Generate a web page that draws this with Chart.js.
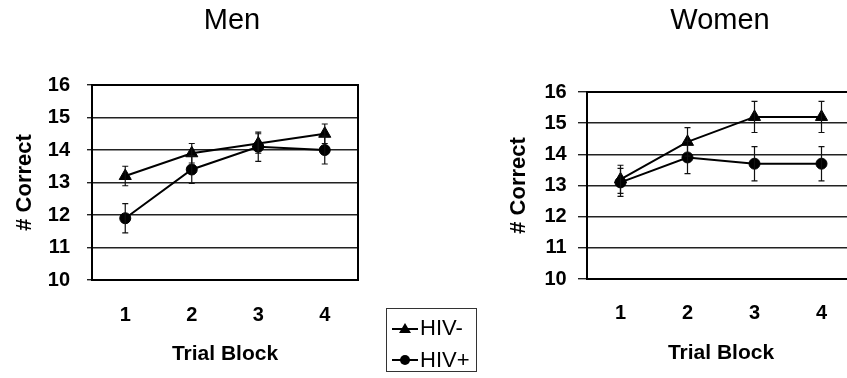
<!DOCTYPE html>
<html>
<head>
<meta charset="utf-8">
<script src="https://cdn.jsdelivr.net/npm/chart.js@4.4.0/dist/chart.umd.min.js"></script>
<style>
  html, body { margin: 0; padding: 0; background: #fff; overflow: hidden; }
  #wrap { position: relative; width: 847px; height: 378px; overflow: hidden; background: #fff; }
  .cv { position: absolute; top: 0; }
  #legend { position: absolute; left: 386px; top: 308px; width: 91px; height: 64px;
    border: 1px solid #333; box-sizing: border-box; font-family: "Liberation Sans", Arial, sans-serif;
    font-size: 22px; color: #000; }
  #legend .row { position: absolute; left: 4px; height: 26px; display: flex; align-items: center; }
  #legend svg { margin-right: 1px; }
</style>
</head>
<body>
<div id="wrap">
  <canvas id="men" class="cv" style="left:0px"></canvas>
  <canvas id="women" class="cv" style="left:440px"></canvas>
  <div id="legend"></div>
</div>
<script>
// ---- data ----
const categories = ['1', '2', '3', '4'];
const seriesLabels = ['HIV-', 'HIV+'];
const panelTitles = ['Men', 'Women'];
const yTicks = [10, 11, 12, 13, 14, 15, 16];

const menNeg = [13.2, 13.9, 14.2, 14.5];
const menNegErr = [0.3, 0.3, 0.3, 0.3];
const menPos = [11.9, 13.4, 14.1, 14.0];
const menPosErr = [0.45, 0.43, 0.45, 0.43];

const womenNeg = [13.2, 14.4, 15.2, 15.2];
const womenNegErr = [0.45, 0.46, 0.5, 0.5];
const womenPos = [13.1, 13.9, 13.7, 13.7];
const womenPosErr = [0.45, 0.52, 0.55, 0.55];

const FONT = '"Liberation Sans", Arial, sans-serif';

// error bars plugin (uses the chart's own scales)
const errorBars = {
  id: 'errorBars',
  afterDatasetsDraw(chart) {
    const ctx = chart.ctx;
    const ys = chart.scales.y;
    chart.data.datasets.forEach((ds, i) => {
      const meta = chart.getDatasetMeta(i);
      if (!ds.errors) return;
      meta.data.forEach((pt, j) => {
        const v = ds.data[j], e = ds.errors[j];
        const top = ys.getPixelForValue(v + e);
        const bot = ys.getPixelForValue(v - e);
        const x = pt.x;
        ctx.save();
        ctx.strokeStyle = '#111';
        ctx.lineWidth = 1.2;
        ctx.beginPath();
        ctx.moveTo(x, top); ctx.lineTo(x, bot);
        ctx.moveTo(x - 3, top); ctx.lineTo(x + 3, top);
        ctx.moveTo(x - 3, bot); ctx.lineTo(x + 3, bot);
        ctx.stroke();
        ctx.restore();
      });
    });
  }
};

// frame + panel title plugin
const frameTitle = {
  id: 'frameTitle',
  beforeDatasetsDraw(chart, args, opts) {
    const {ctx, chartArea: a} = chart;
    ctx.save();
    ctx.strokeStyle = '#000';
    ctx.lineWidth = 2;
    ctx.strokeRect(a.left, a.top, a.right - a.left, a.bottom - a.top);
    ctx.restore();
  },
  afterDraw(chart, args, opts) {
    const ctx = chart.ctx;
    ctx.save();
    ctx.font = '29px ' + FONT;
    ctx.fillStyle = '#000';
    ctx.textAlign = 'center';
    ctx.textBaseline = 'middle';
    ctx.fillText(opts.text, opts.x, opts.y);
    ctx.restore();
  }
};

function makeChart(id, width, neg, negErr, pos, posErr, cfg) {
  const cv = document.getElementById(id);
  cv.width = width; cv.height = 378;
  cv.style.width = width + 'px'; cv.style.height = '378px';
  return new Chart(cv, {
    type: 'line',
    data: {
      labels: categories,
      datasets: [
        { label: seriesLabels[0], data: neg, errors: negErr, borderColor: '#000', backgroundColor: '#000',
          borderWidth: 2, pointStyle: 'triangle', pointRadius: 7, pointBorderWidth: 1, tension: 0 },
        { label: seriesLabels[1], data: pos, errors: posErr, borderColor: '#000', backgroundColor: '#000',
          borderWidth: 2, pointStyle: 'circle', pointRadius: 5.5, pointBorderWidth: 1, tension: 0 }
      ]
    },
    options: {
      responsive: false,
      animation: false,
      devicePixelRatio: 1,
      layout: { padding: { top: cfg.top, right: cfg.right, left: 0, bottom: 0 } },
      plugins: {
        legend: { display: false },
        tooltip: { enabled: false },
        title: { display: false },
        frameTitle: { text: cfg.title, x: cfg.titleX, y: 21 }
      },
      scales: {
        x: {
          type: 'category',
          offset: true,
          grid: { display: false, drawTicks: false },
          border: { display: true, color: '#000', width: 2 },
          ticks: { color: '#000', font: { family: FONT, size: 20, weight: 'bold' }, padding: cfg.xPad },
          title: { display: true, text: 'Trial Block', color: '#000',
                   font: { family: FONT, size: 21, weight: 'bold' }, padding: { top: 0, bottom: cfg.xTitlePad } },
          afterFit(s) { s.height = cfg.xH; }
        },
        y: {
          min: 10, max: 16,
          afterBuildTicks(s) { s.ticks = yTicks.map(v => ({ value: v })); },
          grid: { color: '#222', lineWidth: 1.4, tickLength: cfg.tickLen, drawTicks: true },
          border: { display: true, color: '#000', width: 2 },
          ticks: { color: '#000', font: { family: FONT, size: 20, weight: 'bold' }, padding: cfg.yPad },
          title: { display: true, text: '# Correct', color: '#000',
                   font: { family: FONT, size: 22, weight: 'bold' }, padding: { top: cfg.yTitlePad, bottom: 0 } },
          afterFit(s) { s.width = cfg.yW; }
        }
      }
    },
    plugins: [frameTitle, errorBars]
  });
}

makeChart('men', 464, menNeg, menNegErr, menPos, menPosErr,
  { top: 85, right: 106, title: panelTitles[0], titleX: 232, xPad: 23.5, xTitlePad: 11.4, xH: 98,
    tickLen: 5, yPad: 17, yTitlePad: 11.8, yW: 92 });

makeChart('women', 560, womenNeg, womenNegErr, womenPos, womenPosErr,
  { top: 92, right: 145, title: panelTitles[1], titleX: 280, xPad: 22, xTitlePad: 12.4, xH: 99,
    tickLen: 9, yPad: 11.3, yTitlePad: 65.8, yW: 147 });

// legend built from the series labels
const leg = document.getElementById('legend');
const icons = [
  '<svg width="28" height="16"><line x1="1" y1="9" x2="27" y2="9" stroke="#000" stroke-width="2"/><polygon points="14,3 20,13 8,13" fill="#000"/></svg>',
  '<svg width="28" height="16"><line x1="1" y1="8" x2="27" y2="8" stroke="#000" stroke-width="2"/><circle cx="14" cy="8" r="5" fill="#000"/></svg>'
];
seriesLabels.forEach((lab, i) => {
  const r = document.createElement('div');
  r.className = 'row';
  r.style.top = (i === 0 ? 6 : 38) + 'px';
  r.innerHTML = icons[i] + '<span>' + lab + '</span>';
  leg.appendChild(r);
});
</script>
</body>
</html>
